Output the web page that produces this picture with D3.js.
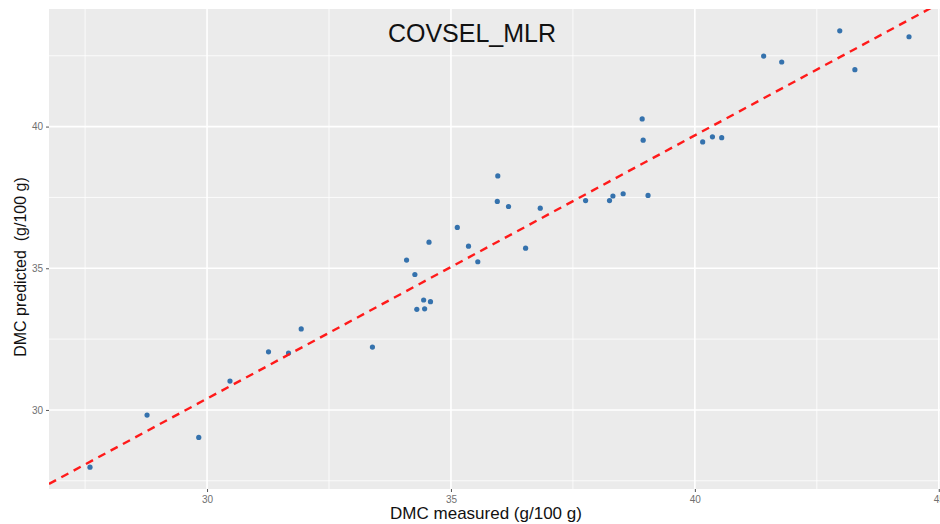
<!DOCTYPE html>
<html>
<head>
<meta charset="utf-8">
<script src="https://cdn.jsdelivr.net/npm/d3@7"></script>
<style>
  body { margin: 0; background: #fff; }
  svg { display: block; overflow: hidden; }
</style>
</head>
<body>
<svg class="scatter" width="940" height="524"></svg>
<script>
// measured vs predicted DMC (g/100 g)
var measured = [27.60, 28.77, 29.83, 30.47, 31.26, 31.67, 31.93, 33.39, 34.09, 34.26,
  34.30, 34.44, 34.46, 34.55, 34.58, 35.13, 35.36, 35.55, 35.96, 35.95,
  36.18, 36.53, 36.83, 37.76, 38.25, 38.32, 38.53, 39.04, 38.92, 38.94,
  40.16, 40.36, 40.55, 41.41, 41.78, 42.97, 43.28, 44.39];
var predicted = [27.98, 29.82, 29.03, 31.02, 32.05, 32.01, 32.86, 32.22, 35.29, 34.78,
  33.55, 33.88, 33.57, 35.92, 33.82, 36.44, 35.78, 35.23, 38.26, 37.36,
  37.18, 35.71, 37.12, 37.39, 37.39, 37.55, 37.63, 37.57, 40.27, 39.52,
  39.46, 39.64, 39.61, 42.49, 42.28, 43.38, 42.01, 43.17];
var xTicks = [30, 35, 40, 45];
var yTicks = [30, 35, 40];
var xMinor = [27.5, 32.5, 37.5, 42.5];
var yMinor = [27.5, 32.5, 37.5, 42.5];
var fitIntercept = 2.53;
var fitSlope = 0.929;

var data = measured.map(function(m, i) { return {x: m, y: predicted[i]}; });

var svg = d3.select('.scatter');
var padding = {t: 9, r: -10, b: 35, l: 49};
var svgWidth = +svg.attr('width');
var svgHeight = +svg.attr('height');

var xScale = d3.scaleLinear().domain([26.76, 45.23]).range([padding.l, svgWidth - padding.r]);
var yScale = d3.scaleLinear().domain([27.21, 44.15]).range([svgHeight - padding.b, padding.t]);

var x0 = xScale.range()[0], x1 = xScale.range()[1];
var y0 = yScale.range()[1], y1 = yScale.range()[0];

svg.append('defs').append('clipPath').attr('id', 'panelClip')
  .append('rect').attr('x', x0).attr('y', y0).attr('width', x1 - x0).attr('height', y1 - y0);

// grey panel
svg.append('rect')
  .attr('x', x0).attr('y', y0)
  .attr('width', x1 - x0).attr('height', y1 - y0)
  .attr('fill', '#ebebeb');

var grid = svg.append('g').attr('class', 'grid');
grid.selectAll('.vminor').data(xMinor).enter().append('line')
  .attr('x1', function(d) { return xScale(d); }).attr('x2', function(d) { return xScale(d); })
  .attr('y1', y0).attr('y2', y1)
  .attr('stroke', '#fff').attr('stroke-width', 0.8);
grid.selectAll('.hminor').data(yMinor).enter().append('line')
  .attr('y1', function(d) { return yScale(d); }).attr('y2', function(d) { return yScale(d); })
  .attr('x1', x0).attr('x2', x1)
  .attr('stroke', '#fff').attr('stroke-width', 0.8);
grid.selectAll('.vmajor').data(xTicks).enter().append('line')
  .attr('x1', function(d) { return xScale(d); }).attr('x2', function(d) { return xScale(d); })
  .attr('y1', y0).attr('y2', y1)
  .attr('stroke', '#fff').attr('stroke-width', 1.6);
grid.selectAll('.hmajor').data(yTicks).enter().append('line')
  .attr('y1', function(d) { return yScale(d); }).attr('y2', function(d) { return yScale(d); })
  .attr('x1', x0).attr('x2', x1)
  .attr('stroke', '#fff').attr('stroke-width', 1.6);

// axes
var xAxis = d3.axisBottom(xScale).tickValues(xTicks).tickSize(3).tickPadding(4);
var yAxis = d3.axisLeft(yScale).tickValues(yTicks).tickSize(3).tickPadding(3);
var gx = svg.append('g').attr('transform', 'translate(0,' + y1 + ')').call(xAxis);
var gy = svg.append('g').attr('transform', 'translate(' + x0 + ',0)').call(yAxis);
[gx, gy].forEach(function(g) {
  g.select('.domain').remove();
  g.selectAll('.tick line').attr('stroke', '#555');
  g.selectAll('.tick text')
    .attr('fill', '#707070')
    .style('font-family', 'Liberation Sans, Arial, sans-serif')
    .style('font-size', '10px');
});

// points
svg.append('g').selectAll('circle').data(data).enter().append('circle')
  .attr('cx', function(d) { return xScale(d.x); })
  .attr('cy', function(d) { return yScale(d.y); })
  .attr('r', 2.6)
  .attr('fill', '#3572ad');

// fitted dashed line
var xd = xScale.domain();
svg.append('line')
  .attr('clip-path', 'url(#panelClip)')
  .attr('x1', xScale(xd[0])).attr('y1', yScale(fitIntercept + fitSlope * xd[0]))
  .attr('x2', xScale(xd[1])).attr('y2', yScale(fitIntercept + fitSlope * xd[1]))
  .attr('stroke', '#ff1a1a')
  .attr('stroke-width', 2.4)
  .attr('stroke-dasharray', '8,6');

// titles
svg.append('text')
  .attr('x', 472).attr('y', 42)
  .attr('text-anchor', 'middle')
  .style('font-family', 'Liberation Sans, Arial, sans-serif')
  .style('font-size', '25px')
  .attr('fill', '#111')
  .text('COVSEL_MLR');

svg.append('text')
  .attr('x', 486).attr('y', 519)
  .attr('text-anchor', 'middle')
  .style('font-family', 'Liberation Sans, Arial, sans-serif')
  .style('font-size', '17px')
  .attr('fill', '#111')
  .text('DMC measured (g/100 g)');

svg.append('text')
  .attr('transform', 'translate(26,267) rotate(-90)')
  .attr('text-anchor', 'middle')
  .style('font-family', 'Liberation Sans, Arial, sans-serif')
  .style('font-size', '16px')
  .style('white-space', 'pre')
  .attr('fill', '#111')
  .text('DMC predicted  (g/100 g)');
</script>
</body>
</html>
